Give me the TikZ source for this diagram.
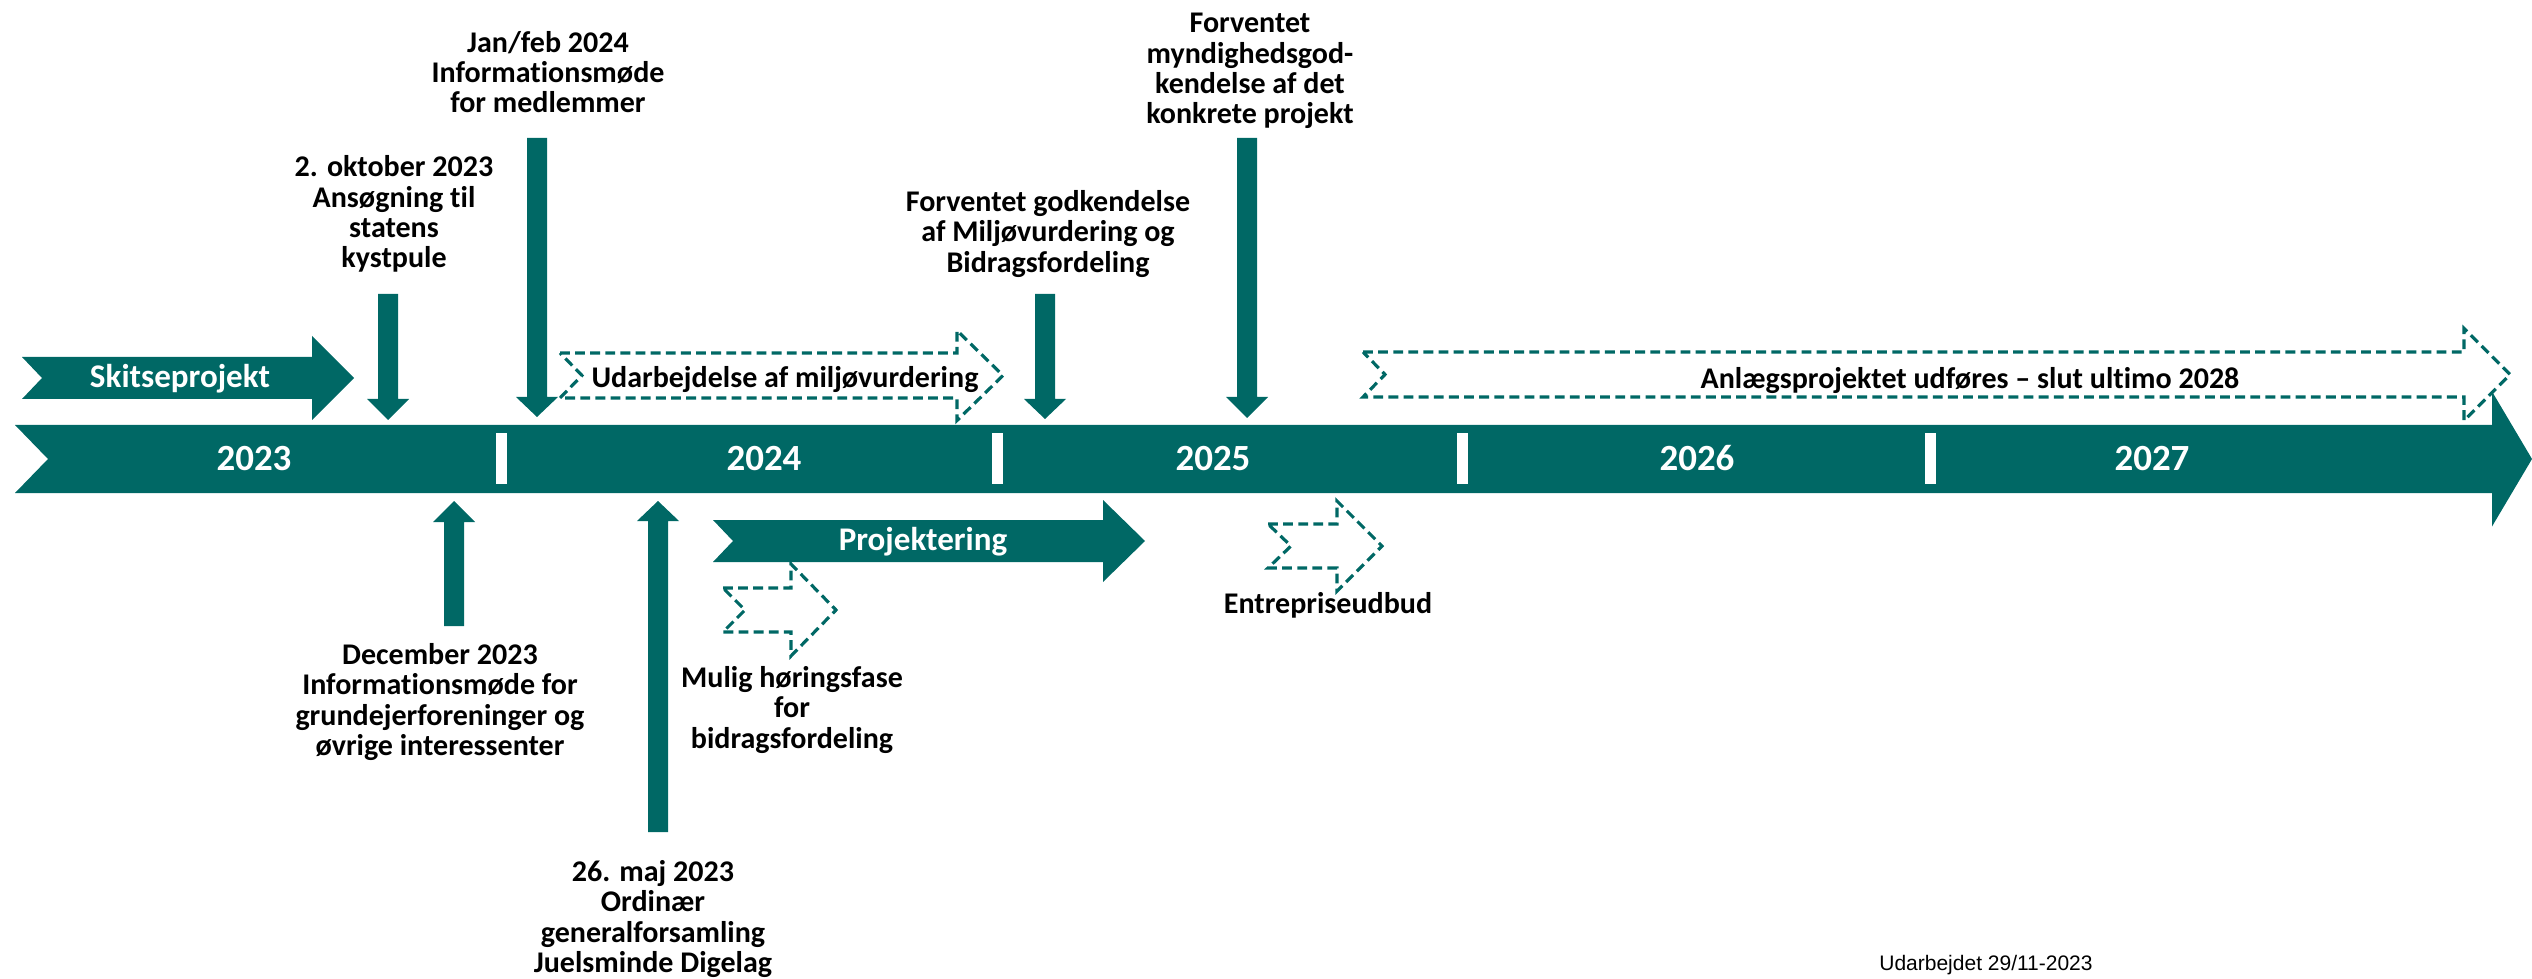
\documentclass[tikz,border=0pt]{standalone}
\usepackage{fontspec}
\setmainfont{Carlito}[Ligatures=NoCommon]
\newfontfamily\arialf{Liberation Sans}
\definecolor{teal1}{RGB}{0,104,101}
% notched block arrow: style, left x, notch depth, head start x, tip x, body top y, body bottom y, head half height
\newcommand\tlarrow[8]{\path[#1] (#2,#6) -- (#4,#6) -- (#4,{(#6+#7)/2-#8}) -- (#5,{(#6+#7)/2}) -- (#4,{(#6+#7)/2+#8}) -- (#4,#7) -- (#2,#7) -- ({#2+#3},{(#6+#7)/2}) -- cycle;}
% vertical block arrow: x, start y, head y, tip y
\newcommand\vtarrow[4]{\path[solidarr] ({#1-10},#2) -- ({#1-10},#3) -- ({#1-21},#3) -- (#1,#4) -- ({#1+21},#3) -- ({#1+10},#3) -- ({#1+10},#2) -- cycle;}
\tikzset{
  solidarr/.style={fill=teal1},
  dasharr/.style={draw=teal1, line width=0.9pt, dash pattern=on 2.8pt off 1.5pt, line join=miter},
  sepbar/.style={fill=white},
  lbl/.style={font=\bfseries\fontsize{8.54pt}{8.62pt}\selectfont, align=center, inner sep=0pt, text=black},
  yr/.style={font=\bfseries\fontsize{10.5pt}{12pt}\selectfont, text=white, inner sep=0pt, anchor=base},
  inarr/.style={font=\bfseries\fontsize{9.4pt}{11pt}\selectfont, text=white, inner sep=0pt, anchor=base},
  dlbl/.style={font=\bfseries\fontsize{8.54pt}{10pt}\selectfont, text=black, inner sep=0pt, anchor=base},
}
\begin{document}
\begin{tikzpicture}[x=0.01cm, y=-0.01cm]
\useasboundingbox (0,0) rectangle (2532,979);
% main timeline
\tlarrow{solidarr}{15}{33}{2492}{2532}{425}{493}{67.5}
\foreach \sx in {501,997,1462,1930} {\fill[sepbar] ({\sx-5.5},433) rectangle ({\sx+5.5},484);}
\node[yr] (y2023) at (254,471) {2023};
\node[yr] (y2024) at (764,471) {2024};
\node[yr] (y2025) at (1213,471) {2025};
\node[yr] (y2026) at (1697,471) {2026};
\node[yr] (y2027) at (2152,471) {2027};
% phase arrows
\tlarrow{solidarr}{22}{20}{312}{354}{357}{399}{42}
\node[inarr] (skitse) at (180,388) {Skitseprojekt};
\tlarrow{solidarr}{713}{20}{1103}{1145}{520}{562}{41}
\node[inarr] (projekt) at (923,550) {Projektering};
\tlarrow{dasharr}{560}{22}{957}{1003}{353}{398}{45}
\node[dlbl] (miljo) at (785,387) {Udarbejdelse af miljøvurdering};
\tlarrow{dasharr}{1363}{22}{2464}{2510}{352}{397}{46}
\node[dlbl] (anlaeg) at (1970,389) {Anlægsprojektet udføres – slut ultimo 2028};
\tlarrow{dasharr}{723}{22}{791}{836}{588}{632}{46}
\tlarrow{dasharr}{1268}{23}{1337}{1382}{524}{568}{45}
\node[dlbl] (entre) at (1328,613) {Entrepriseudbud};
% milestone arrows
\vtarrow{388}{294}{399}{420}
\vtarrow{537}{138}{397}{417}
\vtarrow{1045}{294}{399}{419}
\vtarrow{1247}{138}{397}{418}
\vtarrow{454}{626}{522}{501}
\vtarrow{658}{832}{521}{501}
% labels
\node[lbl] (okt) at (394,214) {2. oktober 2023\\Ansøgning til\\statens\\kystpule};
\node[lbl] (janfeb) at (548,72) {Jan/feb 2024\\Informationsmøde\\for medlemmer};
\node[lbl] (godk) at (1048,234) {Forventet godkendelse\\af Miljøvurdering og\\Bidragsfordeling};
\node[lbl] (mynd) at (1250,71) {Forventet\\myndighedsgod-\\kendelse af det\\konkrete projekt};
\node[lbl] (dec) at (440,702) {December 2023\\Informationsmøde for\\grundejerforeninger og\\øvrige interessenter};
\node[lbl] (maj) at (653,919) {26. maj 2023\\Ordinær\\generalforsamling\\Juelsminde Digelag};
\node[lbl] (mulig) at (792,710) {Mulig høringsfase\\for\\bidragsfordeling};
\node[font=\arialf\fontsize{5.97pt}{7pt}\selectfont, inner sep=0pt, anchor=base] (dato) at (1986,970) {Udarbejdet 29/11-2023};
\end{tikzpicture}
\end{document}
